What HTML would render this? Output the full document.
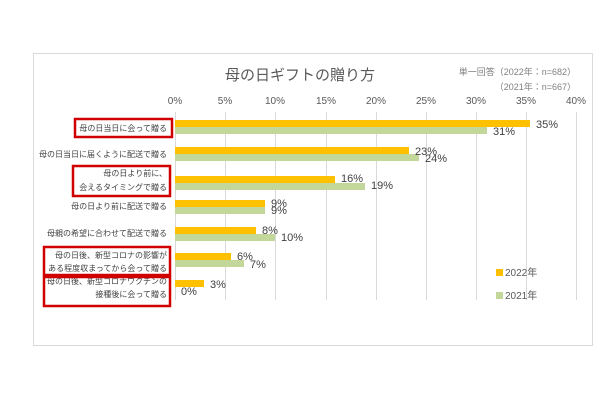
<!DOCTYPE html>
<html><head><meta charset="utf-8"><style>
body{margin:0;background:#fff;width:600px;height:400px;overflow:hidden}
svg text{font-family:"Liberation Sans","Noto Sans CJK JP",sans-serif}
</style></head><body>
<svg width="600" height="400" xmlns="http://www.w3.org/2000/svg">
<rect x="33.5" y="53.5" width="559" height="292" fill="#fff" stroke="#d9d9d9"/>
<text x="300" y="80" font-size="15" fill="#595959" text-anchor="middle">母の日ギフトの贈り方</text>
<text x="576" y="75" font-size="9" fill="#7f7f7f" text-anchor="end">単一回答（2022年：n=682）</text>
<text x="576" y="90" font-size="9" fill="#7f7f7f" text-anchor="end">（2021年：n=667）</text>
<g stroke="#d9d9d9" stroke-width="1">
<line x1="175.5" y1="112" x2="175.5" y2="300"/><line x1="225.5" y1="112" x2="225.5" y2="300"/><line x1="275.5" y1="112" x2="275.5" y2="300"/><line x1="326.5" y1="112" x2="326.5" y2="300"/><line x1="376.5" y1="112" x2="376.5" y2="300"/><line x1="426.5" y1="112" x2="426.5" y2="300"/><line x1="476.5" y1="112" x2="476.5" y2="300"/><line x1="526.5" y1="112" x2="526.5" y2="300"/><line x1="576.5" y1="112" x2="576.5" y2="300"/>
</g>
<g font-size="10" fill="#595959" text-anchor="middle">
<text x="175" y="104">0%</text><text x="225" y="104">5%</text><text x="275" y="104">10%</text><text x="326" y="104">15%</text><text x="376" y="104">20%</text><text x="426" y="104">25%</text><text x="476" y="104">30%</text><text x="526" y="104">35%</text><text x="576" y="104">40%</text>
</g>
<g fill="#FFC000">
<rect x="175" y="120" width="355" height="7"/><rect x="175" y="147" width="234" height="7"/><rect x="175" y="176" width="160" height="7"/><rect x="175" y="200" width="90" height="7"/><rect x="175" y="227" width="81" height="7"/><rect x="175" y="253" width="56" height="7"/><rect x="175" y="280" width="29" height="7"/>
</g>
<g fill="#C4D79B">
<rect x="175" y="127" width="312" height="7"/><rect x="175" y="154" width="244" height="7"/><rect x="175" y="183" width="190" height="7"/><rect x="175" y="207" width="90" height="7"/><rect x="175" y="234" width="100" height="7"/><rect x="175" y="260" width="69" height="7"/>
</g>
<g font-size="11" fill="#404040">
<text x="536" y="128">35%</text><text x="493" y="135">31%</text>
<text x="415" y="155">23%</text><text x="425" y="162">24%</text>
<text x="341" y="182">16%</text><text x="371" y="189">19%</text>
<text x="271" y="207">9%</text><text x="271" y="214">9%</text>
<text x="262" y="234">8%</text><text x="281" y="241">10%</text>
<text x="237" y="260">6%</text><text x="250" y="268">7%</text>
<text x="210" y="288">3%</text><text x="181" y="295">0%</text>
</g>
<g font-size="8" fill="#404040" text-anchor="end">
<text x="167" y="131">母の日当日に会って贈る</text>
<text x="167" y="157">母の日当日に届くように配送で贈る</text>
<text x="167" y="176">母の日より前に、</text>
<text x="167" y="190">会えるタイミングで贈る</text>
<text x="167" y="209">母の日より前に配送で贈る</text>
<text x="167" y="236">母親の希望に合わせて配送で贈る</text>
<text x="167" y="258">母の日後、新型コロナの影響が</text>
<text x="167" y="271">ある程度収まってから会って贈る</text>
<text x="167" y="284">母の日後、新型コロナワクチンの</text>
<text x="167" y="297">接種後に会って贈る</text>
</g>
<g fill="none" stroke="#d00000" stroke-width="2.5">
<rect x="75" y="119" width="97" height="18"/>
<rect x="73" y="166" width="97" height="30"/>
<rect x="44" y="247" width="126" height="28"/>
<rect x="44" y="277" width="126" height="29"/>
</g>
<rect x="496" y="269" width="7" height="7" fill="#FFC000"/>
<text x="505" y="276" font-size="10" fill="#595959">2022年</text>
<rect x="496" y="292" width="7" height="7" fill="#C4D79B"/>
<text x="505" y="299" font-size="10" fill="#595959">2021年</text>
</svg>
</body></html>
